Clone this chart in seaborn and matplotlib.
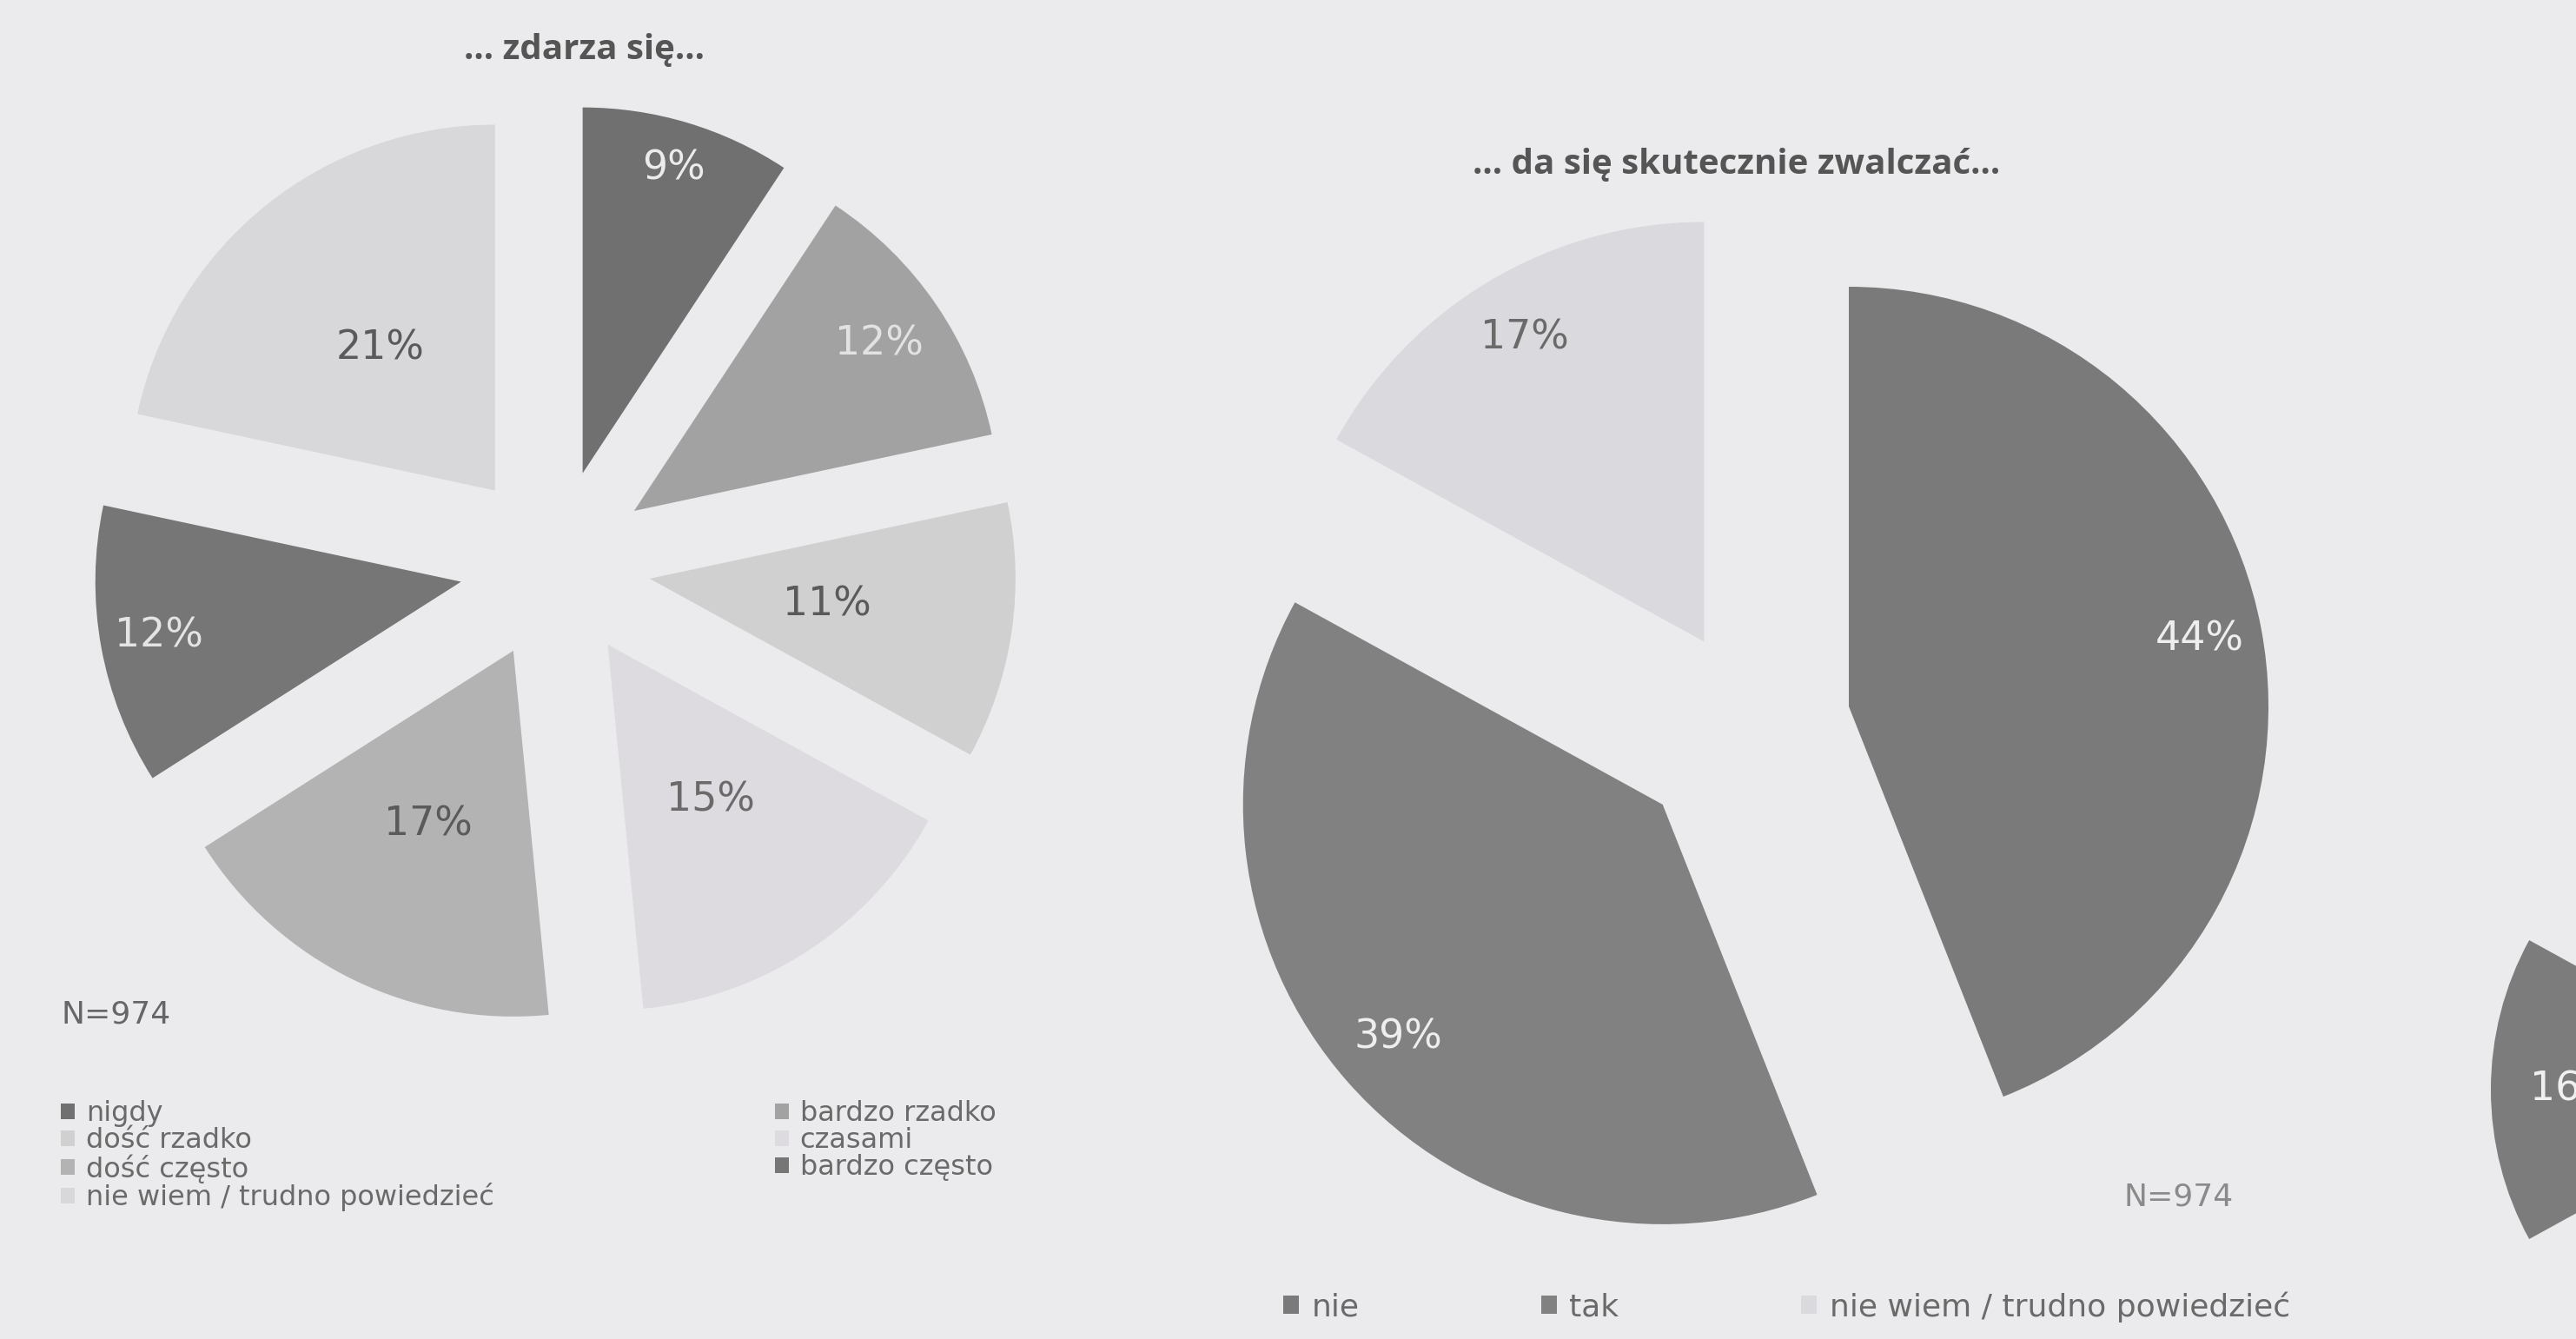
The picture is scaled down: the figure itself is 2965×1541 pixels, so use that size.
import numpy as np
import matplotlib
matplotlib.use("Agg")
import matplotlib.pyplot as plt
import seaborn as sns

sns.set_theme(style="white")
plt.rcParams['font.family'] = ['DejaVu Sans']

# data
title_left = "... zdarza się..."
cats_left = ["nigdy", "bardzo rzadko", "dość rzadko", "czasami",
             "dość często", "bardzo często", "nie wiem / trudno powiedzieć"]
vals_left = [9, 12, 11, 15, 17, 12, 21]

title_right = "... da się skutecznie zwalczać..."
cats_right = ["nie", "tak", "nie wiem / trudno powiedzieć"]
vals_right = [44, 39, 17]

# next chart, cut off by the right edge of the page
vals_cut = [16, 84]

n_text = "N=974"

# greys of the print
cols_left = ['#707070', '#a2a2a2', '#d0d0d0', '#dedbe0', '#b3b3b3', '#767676', '#d8d8da']
txt_left = ['#ececec', '#e2e2e2', '#5a5a5a', '#6a6a6a', '#5a5a5a', '#e4e4e4', '#5a5a5a']
dist_left = [0.87, 0.81, 0.49, 0.51, 0.53, 0.84, 0.50]

cols_right = ['#7a7a7a', '#818181', '#dad9dd']
txt_right = ['#eeeeee', '#eeeeee', '#6a6a6a']
dist_right = [0.85, 0.84, 0.84]

cols_cut = ['#7c7c7c', '#ebebed']

bg = '#ebebed'
W, H = 2965, 1541

fig = plt.figure(figsize=(W / 100, H / 100), dpi=100, facecolor=bg)
ax = fig.add_axes([0, 0, 1, 1])
ax.set_facecolor(bg)


def put_labels(wedges, vals, dists, colors, n=None):
    for w, v, d, c in list(zip(wedges, vals, dists, colors))[:n]:
        mid = np.deg2rad((w.theta1 + w.theta2) / 2)
        x = w.center[0] + d * w.r * np.cos(mid)
        y = w.center[1] + d * w.r * np.sin(mid)
        ax.text(x, y, f"{v}%", ha="center", va="center", color=c, fontsize=33)


# left pie (pixel units, y up)
wl, _ = ax.pie(vals_left, colors=cols_left, startangle=90, counterclock=False,
               center=(639, H - 650), radius=421, explode=[110] * 7,
               wedgeprops=dict(linewidth=0))
put_labels(wl, vals_left, dist_left, txt_left)

# right pie
wr, _ = ax.pie(vals_right, colors=cols_right, startangle=90, counterclock=False,
               center=(2018, H - 834), radius=483, explode=[112, 139, 111],
               wedgeprops=dict(linewidth=0))
put_labels(wr, vals_right, dist_right, txt_right)

# fragment at the right edge
wc, _ = ax.pie(vals_cut, colors=cols_cut, startangle=180 + 0.5 * 360 * vals_cut[0] / 100,
               counterclock=False, center=(3300, H - 1254), radius=357,
               explode=[76, 0], wedgeprops=dict(linewidth=0))
put_labels(wc, vals_cut, [0.73], ['#f0f0f0'], n=1)

ax.set_xlim(0, W)
ax.set_ylim(0, H)
ax.set_aspect('auto')
ax.axis('off')

# titles
ax.text(673, H - 57, title_left, ha="center", va="center", fontsize=29,
        fontweight="bold", color="#555555", family=["Open Sans", "DejaVu Sans"])
ax.text(1999, H - 189, title_right, ha="center", va="center", fontsize=29,
        fontweight="bold", color="#555555", family=["Open Sans", "DejaVu Sans"])

ax.text(70, H - 1167, n_text, ha="left", va="center", fontsize=26, color="#666666")
ax.text(2445, H - 1377, n_text, ha="left", va="center", fontsize=26, color="#8a8a8a")

# left legend, two columns placed as in the print
leg_kw = dict(frameon=False, borderpad=0, borderaxespad=0, handlelength=0.5,
              handleheight=0.5, handletextpad=0.4,
              bbox_transform=ax.transData, loc="upper left",
              labelcolor="#6a6a6a")
col1 = [0, 2, 4, 6]
col2 = [1, 3, 5]
leg1 = ax.legend([wl[i] for i in col1], [cats_left[i] for i in col1],
                 bbox_to_anchor=(70, H - 1266), fontsize=23, labelspacing=0.0, **leg_kw)
ax.add_artist(leg1)
leg2 = ax.legend([wl[i] for i in col2], [cats_left[i] for i in col2],
                 bbox_to_anchor=(892, H - 1266), fontsize=23, labelspacing=0.0, **leg_kw)
ax.add_artist(leg2)

# right legend, one row
ax.legend(wr, cats_right, bbox_to_anchor=(1477, H - 1486), fontsize=26,
          ncol=3, columnspacing=5.8, **leg_kw)

fig.savefig("out.png", dpi=100, facecolor=bg)
